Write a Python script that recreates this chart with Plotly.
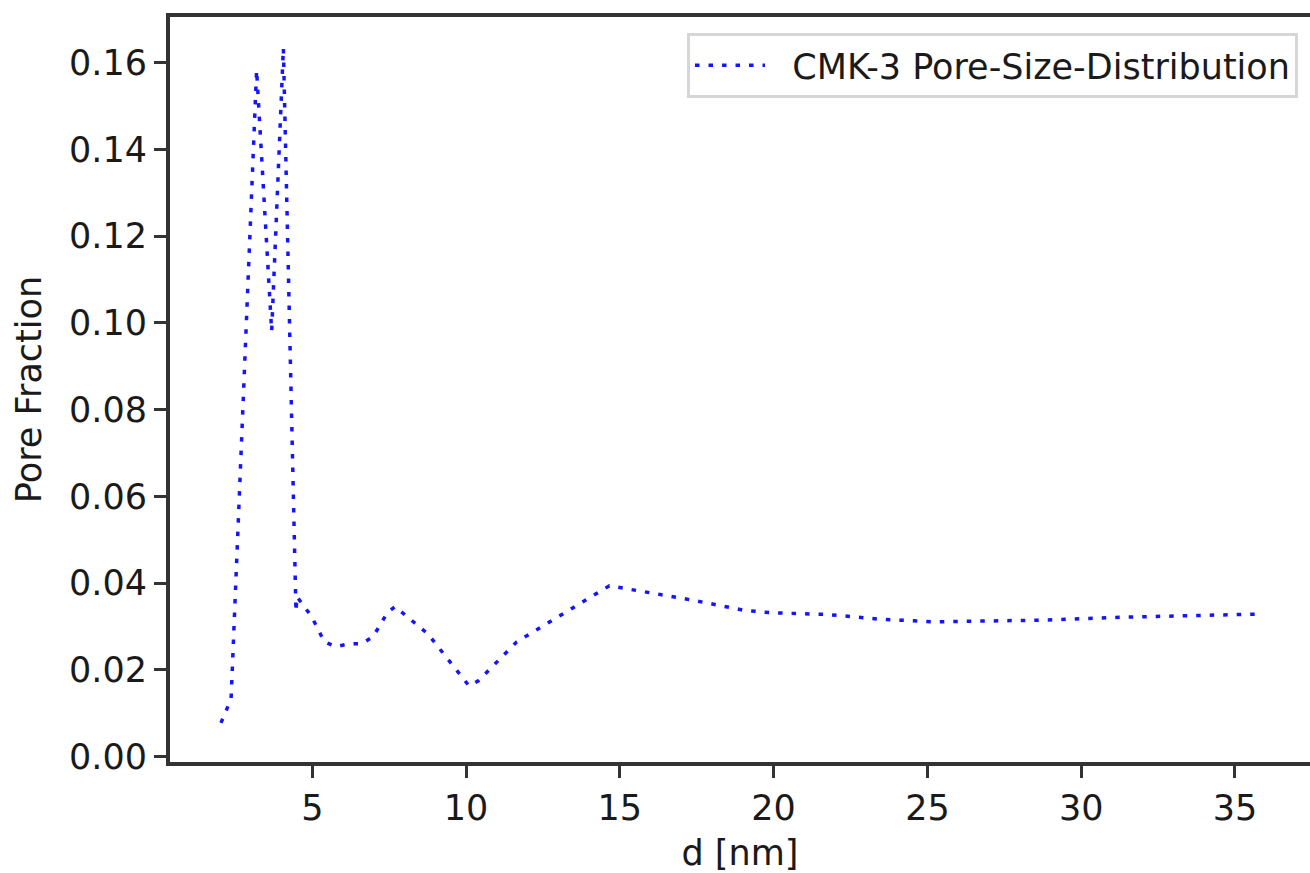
import plotly.graph_objects as go

# Pore diameter d [nm] and the corresponding pore fraction of CMK-3
pore_diameter_nm = [
    2.03, 2.36, 3.19, 3.68, 4.06, 4.47, 4.50, 4.98, 5.20, 5.39, 5.77,
    6.20, 6.63, 6.98, 7.44, 7.69, 8.76, 10.10, 10.40, 11.65, 14.66,
    15.52, 16.89, 18.16, 19.00, 19.90, 21.68, 22.55, 23.46, 25.21,
    28.85, 31.03, 33.21, 35.86,
]
pore_fraction = [
    0.0078, 0.0133, 0.1583, 0.0981, 0.1634, 0.0334, 0.0369, 0.0323, 0.0292,
    0.0265, 0.0254, 0.0260, 0.0261, 0.0277, 0.0332, 0.0346, 0.0283, 0.0163,
    0.0175, 0.0265, 0.0394, 0.0384, 0.0367, 0.0350, 0.0338, 0.0332, 0.0328,
    0.0323, 0.0317, 0.0311, 0.0315, 0.0321, 0.0324, 0.0329,
]

x_ticks = [5, 10, 15, 20, 25, 30, 35]
y_ticks = [0.00, 0.02, 0.04, 0.06, 0.08, 0.10, 0.12, 0.14, 0.16]
y_tick_labels = [f"{v:.2f}" for v in y_ticks]

FONT = "DejaVu Sans"
INK = "#333333"
TEXT = "#1a1a1a"
SIZE = 35

fig = go.Figure()
fig.add_trace(go.Scatter(
    x=pore_diameter_nm,
    y=pore_fraction,
    mode="lines",
    # non-breaking spaces widen the gap between legend sample and label
    name="\u00a0\u00a0CMK-3 Pore-Size-Distribution",
    line=dict(color="rgb(20,20,255)", width=3.5, dash="4.5px,9px"),
))

fig.update_layout(
    width=1310,
    height=873,
    margin=dict(l=170, r=0, t=17, b=111),
    paper_bgcolor="white",
    plot_bgcolor="white",
    font=dict(family=FONT, size=SIZE, color=TEXT),
    showlegend=True,
    legend=dict(
        x=0.9895, y=0.9785, xanchor="right", yanchor="top",
        bgcolor="white",
        bordercolor="#d6d6d6",
        borderwidth=3,
        font=dict(family=FONT, size=SIZE, color=TEXT),
        itemwidth=70,
    ),
    xaxis=dict(
        range=[0.374, 37.44],
        tickvals=x_ticks,
        ticktext=[str(v) for v in x_ticks],
        showgrid=False,
        zeroline=False,
        showline=True,
        linecolor=INK,
        linewidth=4,
        mirror=True,
        ticks="outside",
        ticklen=12,
        tickwidth=3,
        tickcolor=INK,
        ticklabelstandoff=0,
        tickfont=dict(family=FONT, size=SIZE, color=TEXT),
        title=dict(text="d [nm]", font=dict(family=FONT, size=SIZE, color=TEXT), standoff=14),
    ),
    yaxis=dict(
        range=[-0.00122, 0.17054],
        tickvals=y_ticks,
        ticktext=y_tick_labels,
        showgrid=False,
        zeroline=False,
        showline=True,
        linecolor=INK,
        linewidth=4,
        mirror=False,
        ticks="outside",
        ticklen=12,
        tickwidth=3,
        tickcolor=INK,
        tickfont=dict(family=FONT, size=SIZE, color=TEXT),
        title=dict(text="Pore Fraction", font=dict(family=FONT, size=SIZE, color=TEXT), standoff=18),
    ),
)

fig.write_html("out.html")
